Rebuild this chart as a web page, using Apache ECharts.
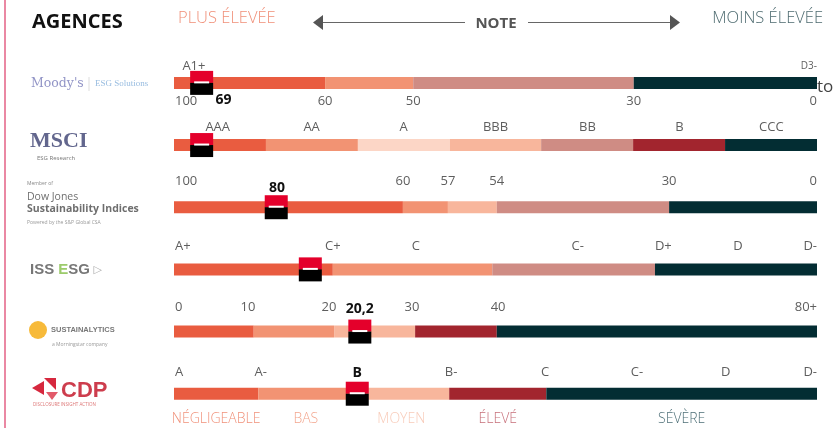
<!DOCTYPE html>
<html>
<head>
<meta charset="utf-8">
<script src="https://cdn.jsdelivr.net/npm/echarts@6/dist/echarts.min.js"></script>
<style>
  html, body { margin: 0; padding: 0; background: #fff; }
  #chart { width: 833px; height: 428px; }
</style>
</head>
<body>
<div id="chart"></div>
<script>
const agencies = ["Moody's", 'MSCI', 'Dow Jones', 'ISS ESG', 'Sustainalytics', 'CDP'];

// band limits along each bar (0 = best end, 100 = worst end)
const moodysBreaks = [0, 23.5, 37.2, 71.5, 100];
const msciBreaks = [0, 14.3, 28.6, 42.9, 57.1, 71.4, 85.7, 100];
const djBreaks = [0, 35.6, 42.6, 50.2, 77, 100];
const issBreaks = [0, 24.7, 49.5, 74.8, 100];
const sustBreaks = [0, 12.4, 24.9, 37.5, 50.2, 100];
const cdpBreaks = [0, 13.1, 27.9, 42.8, 57.9, 100];

// colour of each band (index in palette)
const moodysBands = [0, 1, 4, 6];
const msciBands = [0, 1, 2, 3, 4, 5, 6];
const djBands = [0, 1, 3, 4, 6];
const issBands = [0, 1, 4, 6];
const sustBands = [0, 1, 3, 5, 6];
const cdpBands = [0, 1, 3, 5, 6];

// scale labels
const moodysTicks = ['100', '60', '50', '30', '0'];
const moodysTickPos = [0, 23.5, 37.2, 71.5, 100];
const moodysGrades = ['A1+', 'D3-'];
const moodysGradePos = [3.1, 100];
const msciTicks = ['AAA', 'AA', 'A', 'BBB', 'BB', 'B', 'CCC'];
const msciTickPos = [6.8, 21.4, 35.7, 50, 64.3, 78.6, 92.9];
const djTicks = ['100', '60', '57', '54', '30', '0'];
const djTickPos = [0, 35.6, 42.6, 50.2, 77, 100];
const issTicks = ['A+', 'C+', 'C', 'C-', 'D+', 'D', 'D-'];
const issTickPos = [0, 24.7, 37.6, 62.8, 76.1, 87.7, 100];
const sustTicks = ['0', '10', '20', '30', '40', '80+'];
const sustTickPos = [0, 11.5, 24.1, 37.0, 50.4, 100];
const cdpTicks = ['A', 'A-', 'B-', 'C', 'C-', 'D', 'D-'];
const cdpTickPos = [0, 13.5, 43.1, 57.7, 72.0, 85.8, 100];
const cdpRisk = ['NÉGLIGEABLE', 'BAS', 'MOYEN', 'ÉLEVÉ', 'SÉVÈRE'];

// Société Générale position per agency
const markerPos = [4.3, 4.3, 15.9, 21.2, 28.9, 28.5];
const scoreText = ['69', '', '80', '', '20,2', 'B'];
const scorePos = [6.3, 0, 16.0, 0, 28.9, 28.5];

const palette = ['#E95C40', '#F29373', '#FCD6C6', '#F8B69C', '#CF8C84', '#A2252E', '#032D33'];
const riskColors = ['#F0917A', '#F3A68E', '#F8CBB9', '#C7707A', '#4F7078'];

// vertical offsets of the text rows (px from bar centre)
const tickDy = [18, -18, -26, -23, -24, -21];
const scoreDy = [17, 0, -19, 0, -23, -21];

const allBreaks = [moodysBreaks, msciBreaks, djBreaks, issBreaks, sustBreaks, cdpBreaks];
const allBands = [moodysBands, msciBands, djBands, issBands, sustBands, cdpBands];
const allTicks = [moodysTicks, msciTicks, djTicks, issTicks, sustTicks, cdpTicks];
const allTickPos = [moodysTickPos, msciTickPos, djTickPos, issTickPos, sustTickPos, cdpTickPos];

const barData = [];
allBreaks.forEach((b, row) => {
  for (let i = 0; i < b.length - 1; i++) {
    barData.push([b[i], b[i + 1], row, allBands[row][i]]);
  }
});

const labels = [];
const tickFont = '13px "Open Sans"';
allTicks.forEach((t, row) => {
  t.forEach((s, i) => {
    labels.push({pos: allTickPos[row][i], row: row, text: s, dy: tickDy[row], font: tickFont, fill: '#5e5e5e'});
  });
});
moodysGrades.forEach((s, i) => {
  labels.push({pos: moodysGradePos[i], row: 0, text: s, dy: -17,
    font: i === 0 ? tickFont : '10px "Open Sans"', fill: '#5e5e5e'});
});
scoreText.forEach((s, row) => {
  if (!s) return;
  labels.push({pos: scorePos[row], row: row, text: s, dy: scoreDy[row],
    font: 'bold 14px "Open Sans"', fill: '#111', align: row === 0 ? 'left' : 'center'});
});
cdpRisk.forEach((s, i) => {
  labels.push({pos: (cdpBreaks[i] + cdpBreaks[i + 1]) / 2, row: 5, text: s, dy: 25,
    font: '300 14px "Open Sans"', fill: riskColors[i]});
});

let chart = echarts.init(document.getElementById('chart'));

let option = {
  animation: false,
  grid: {left: 174, right: 16, top: 51.8, height: 373},
  xAxis: {type: 'value', min: 0, max: 100, show: false},
  yAxis: {type: 'category', data: agencies, inverse: true, show: false},
  graphic: [
    {type: 'line', shape: {x1: 5, y1: 0, x2: 5, y2: 428}, style: {stroke: '#EA88A3', lineWidth: 2}},
    {type: 'text', x: 32, y: 22, style: {text: 'AGENCES', font: 'bold 20px "Open Sans"', fill: '#111', verticalAlign: 'middle'}},
    {type: 'text', x: 178, y: 18, style: {text: 'PLUS ÉLEVÉE', font: '300 16.5px "Open Sans"', fill: '#F08F78', verticalAlign: 'middle'}},
    {type: 'text', x: 823, y: 18, style: {text: 'MOINS ÉLEVÉE', font: '300 16.5px "Open Sans"', fill: '#4E6B70', align: 'right', verticalAlign: 'middle'}},
    {type: 'text', x: 496, y: 24, style: {text: 'NOTE', font: 'bold 15px "Open Sans"', fill: '#555', align: 'center', verticalAlign: 'middle'}},
    {type: 'line', shape: {x1: 322, y1: 22.5, x2: 465, y2: 22.5}, style: {stroke: '#666', lineWidth: 1}},
    {type: 'line', shape: {x1: 528, y1: 22.5, x2: 671, y2: 22.5}, style: {stroke: '#666', lineWidth: 1}},
    {type: 'polygon', shape: {points: [[313, 22.5], [323, 15], [323, 30]]}, style: {fill: '#555'}},
    {type: 'polygon', shape: {points: [[680, 22.5], [670, 15], [670, 30]]}, style: {fill: '#555'}},
    {type: 'text', x: 817, y: 87, style: {text: 'to', font: '17px "Open Sans"', fill: '#444', verticalAlign: 'middle'}},

    // agency logos (approximations)
    {type: 'text', x: 31, y: 84, style: {text: "Moody's", font: '12.5px "DejaVu Serif"', fill: '#7579B8', verticalAlign: 'middle', opacity: 0.8}},
    {type: 'line', shape: {x1: 89, y1: 77, x2: 89, y2: 91}, style: {stroke: '#ddd', lineWidth: 1}},
    {type: 'text', x: 95, y: 84, style: {text: 'ESG Solutions', font: '9px "Liberation Serif"', fill: '#86B0DA', verticalAlign: 'middle', opacity: 0.85}},

    {type: 'text', x: 30, y: 141, style: {text: 'MSCI', font: 'bold 22px "Liberation Serif"', fill: '#3B4070', verticalAlign: 'middle', opacity: 0.8}},
    {type: 'text', x: 37, y: 158, style: {text: 'ESG Research', font: '6px "Open Sans"', fill: '#777', verticalAlign: 'middle'}},

    {type: 'text', x: 27, y: 184, style: {text: 'Member of', font: '5px "Open Sans"', fill: '#888', verticalAlign: 'middle'}},
    {type: 'text', x: 27, y: 197, style: {text: 'Dow Jones', font: '10.5px "Open Sans"', fill: '#555', verticalAlign: 'middle', opacity: 0.85}},
    {type: 'text', x: 27, y: 209, style: {text: 'Sustainability Indices', font: 'bold 10.5px "Open Sans"', fill: '#555', verticalAlign: 'middle', opacity: 0.85}},
    {type: 'text', x: 27, y: 223, style: {text: 'Powered by the S&P Global CSA', font: '5px "Open Sans"', fill: '#999', verticalAlign: 'middle'}},

    {type: 'text', x: 30, y: 270, style: {
      text: '{g|ISS }{e|E}{g|SG}{t| ▷}', verticalAlign: 'middle',
      rich: {
        g: {font: 'bold 15px "Liberation Sans"', fill: '#777'},
        e: {font: 'bold 15px "Liberation Sans"', fill: '#9CCB6B'},
        t: {font: '11px "DejaVu Sans"', fill: '#aaa'}
      }
    }},

    {type: 'circle', shape: {cx: 38, cy: 330, r: 9}, style: {fill: '#F7BA3A'}},
    {type: 'text', x: 51, y: 330, style: {text: 'SUSTAINALYTICS', font: 'bold 7.5px "Liberation Sans"', fill: '#777', verticalAlign: 'middle'}},
    {type: 'text', x: 52, y: 345, style: {text: 'a Morningstar company', font: '5px "Open Sans"', fill: '#999', verticalAlign: 'middle'}},

    {type: 'polygon', shape: {points: [[32, 388], [44, 381], [44, 395]]}, style: {fill: '#D6283E'}},
    {type: 'polygon', shape: {points: [[44, 378], [56, 378], [56, 390]]}, style: {fill: '#D6283E'}},
    {type: 'polygon', shape: {points: [[46, 392], [58, 392], [52, 400]]}, style: {fill: '#E25A6A'}},
    {type: 'text', x: 61, y: 391, style: {text: 'CDP', font: 'bold 22px "Liberation Sans"', fill: '#C8283A', verticalAlign: 'middle', opacity: 0.9}},
    {type: 'text', x: 33, y: 405, style: {text: 'DISCLOSURE INSIGHT ACTION', font: '4.5px "Open Sans"', fill: '#D77', verticalAlign: 'middle'}}
  ],
  series: [
    {
      type: 'custom',
      data: barData,
      z: 2,
      renderItem: function (params, api) {
        let a = api.coord([api.value(0), api.value(2)]);
        let b = api.coord([api.value(1), api.value(2)]);
        return {
          type: 'rect',
          shape: {x: a[0], y: a[1] - 6, width: b[0] - a[0], height: 12},
          style: {fill: palette[api.value(3)]}
        };
      }
    },
    {
      type: 'custom',
      data: markerPos.map((p, row) => [p, row]),
      z: 3,
      renderItem: function (params, api) {
        let c = api.coord([api.value(0), api.value(1)]);
        let x = c[0] - 11.5, y = c[1] - 12;
        return {
          type: 'group',
          children: [
            {type: 'rect', shape: {x: x, y: y, width: 23, height: 12}, style: {fill: '#E4002B'}},
            {type: 'rect', shape: {x: x, y: y + 12, width: 23, height: 12}, style: {fill: '#000'}},
            {type: 'rect', shape: {x: x + 4, y: y + 10.5, width: 15, height: 2}, style: {fill: '#fff'}}
          ]
        };
      }
    },
    {
      type: 'custom',
      data: labels.map(l => [l.pos, l.row]),
      z: 4,
      renderItem: function (params, api) {
        let l = labels[params.dataIndex];
        let c = api.coord([api.value(0), api.value(1)]);
        let align = l.align || (l.pos === 0 ? 'left' : l.pos === 100 ? 'right' : 'center');
        return {
          type: 'text',
          x: c[0] + (align === 'left' ? 1 : 0),
          y: c[1] + l.dy,
          style: {text: l.text, font: l.font, fill: l.fill, align: align, verticalAlign: 'middle'}
        };
      }
    }
  ]
};
chart.setOption(option);
</script>
</body>
</html>
